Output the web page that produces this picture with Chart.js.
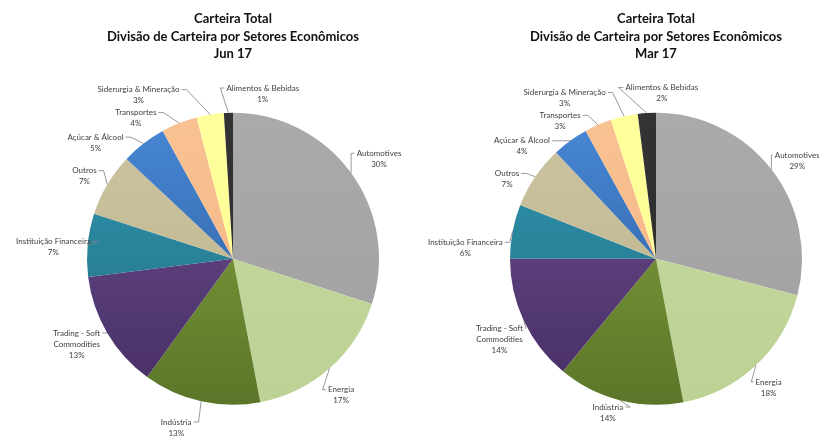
<!DOCTYPE html>
<html>
<head>
<meta charset="utf-8">
<script src="https://cdn.jsdelivr.net/npm/chart.js@4"></script>
<style>
  body { margin: 0; background: #fff; }
  #wrap { position: relative; width: 819px; height: 437px; overflow: hidden; }
  canvas { position: absolute; top: 0; }
  #chart-jun { left: 0; }
  #chart-mar { left: 410px; }
</style>
</head>
<body>
<div id="wrap">
  <canvas id="chart-jun" width="466" height="437"></canvas>
  <canvas id="chart-mar" width="409" height="437"></canvas>
</div>
<script>
var sectors = ['Automotives', 'Energia', 'Indústria', ['Trading - Soft', 'Commodities'],
  'Instituição Financeira', 'Outros', 'Açúcar & Álcool', 'Transportes',
  'Siderurgia & Mineração', 'Alimentos & Bebidas'];
var shareJun = [30, 17, 13, 13, 7, 7, 5, 4, 3, 1];
var shareMar = [29, 18, 14, 14, 6, 7, 4, 3, 3, 2];
var titleJun = ['Carteira Total', 'Divisão de Carteira por Setores Econômicos', 'Jun 17'];
var titleMar = ['Carteira Total', 'Divisão de Carteira por Setores Econômicos', 'Mar 17'];

// top / bottom colour of each slice (excel style shading)
var sliceColors = [
  ['#aaaaaa', '#a0a0a0'],
  ['#c6d9a0', '#bdd194'],
  ['#86a640', '#5b7629'],
  ['#6c4f91', '#472e63'],
  ['#3098b3', '#216c7e'],
  ['#ccc4a1', '#bcb38b'],
  ['#4888d6', '#2c5a98'],
  ['#f9c292', '#f4b27f'],
  ['#ffff9c', '#ffff94'],
  ['#333333', '#2a2a2a']
];

// where each label sits: [turn from slice middle in degrees, distance from centre]
var labelSpotJun = [[1.6, 177], [3, 174], [6, 178], [2, 178], [-1.6, 180],
  [-1.5, 170], [-12, 180], [-13, 171], [-21, 189], [12, 168]];
var labelSpotMar = [[3, 172], [2, 171], [3, 161], [-2, 176], [-7.5, 191],
  [-6, 169], [-14, 175], [-11.4, 168], [-17, 185], [5.6, 166]];

var PIE_RADIUS = 146;

function sliceFill(c) {
  var area = c.chart.chartArea;
  var col = sliceColors[c.dataIndex];
  if (!area) return col[0];
  var cy = (area.top + area.bottom) / 2;
  var g = c.chart.ctx.createLinearGradient(0, cy - PIE_RADIUS, 0, cy + PIE_RADIUS);
  g.addColorStop(0, col[0]);
  g.addColorStop(1, col[1]);
  return g;
}

var sliceLabels = {
  id: 'sliceLabels',
  afterDatasetsDraw: function(chart, args, opts) {
    var ctx = chart.ctx;
    var meta = chart.getDatasetMeta(0);
    var values = chart.data.datasets[0].data;
    var lh = 11;
    ctx.save();
    ctx.font = '8px Lato';
    ctx.fillStyle = '#404040';
    ctx.strokeStyle = '#808080';
    ctx.lineWidth = 0.8;
    ctx.textAlign = 'center';
    ctx.textBaseline = 'middle';
    meta.data.forEach(function(arc, i) {
      var p = arc.getProps(['x', 'y', 'startAngle', 'endAngle', 'outerRadius'], true);
      var mid = (p.startAngle + p.endAngle) / 2;
      var spot = opts.spots[i];
      var a = mid + spot[0] * Math.PI / 180;
      var lx = p.x + Math.cos(a) * spot[1];
      var ly = p.y + Math.sin(a) * spot[1];
      var lines = [].concat(chart.data.labels[i], values[i] + '%');
      var top = ly - (lines.length - 1) * lh / 2;
      lines.forEach(function(t, k) {
        ctx.fillText(t, lx, top + k * lh);
      });

      // leader line from the slice edge to the first text line
      var ex = p.x + Math.cos(mid) * p.outerRadius;
      var ey = p.y + Math.sin(mid) * p.outerRadius;
      var w = ctx.measureText(lines[0]).width;
      var side = ex < lx ? -1 : 1;
      var ax = lx + side * (w / 2 + 2);
      var kink = side * Math.min(5, Math.abs(ex - ax));
      ctx.beginPath();
      ctx.moveTo(ex, ey);
      ctx.lineTo(ax + kink, top);
      ctx.lineTo(ax, top);
      ctx.stroke();
    });
    ctx.restore();
  }
};

function makePie(id, title, values, spots, padLeft) {
  return new Chart(document.getElementById(id), {
    type: 'pie',
    data: {
      labels: sectors,
      datasets: [{
        data: values,
        backgroundColor: sliceFill,
        borderWidth: 0,
        radius: PIE_RADIUS
      }]
    },
    plugins: [sliceLabels],
    options: {
      responsive: false,
      animation: false,
      layout: { padding: { left: padLeft } },
      plugins: {
        legend: { display: false },
        tooltip: { enabled: false },
        title: {
          display: true,
          text: title,
          color: '#111',
          font: { family: 'Lato', size: 13, weight: 'bold', lineHeight: 1.35 },
          padding: { top: 10, bottom: 18 }
        },
        sliceLabels: { spots: spots }
      }
    }
  });
}

makePie('chart-jun', titleJun, shareJun, labelSpotJun, 0);
makePie('chart-mar', titleMar, shareMar, labelSpotMar, 83);
</script>
</body>
</html>
